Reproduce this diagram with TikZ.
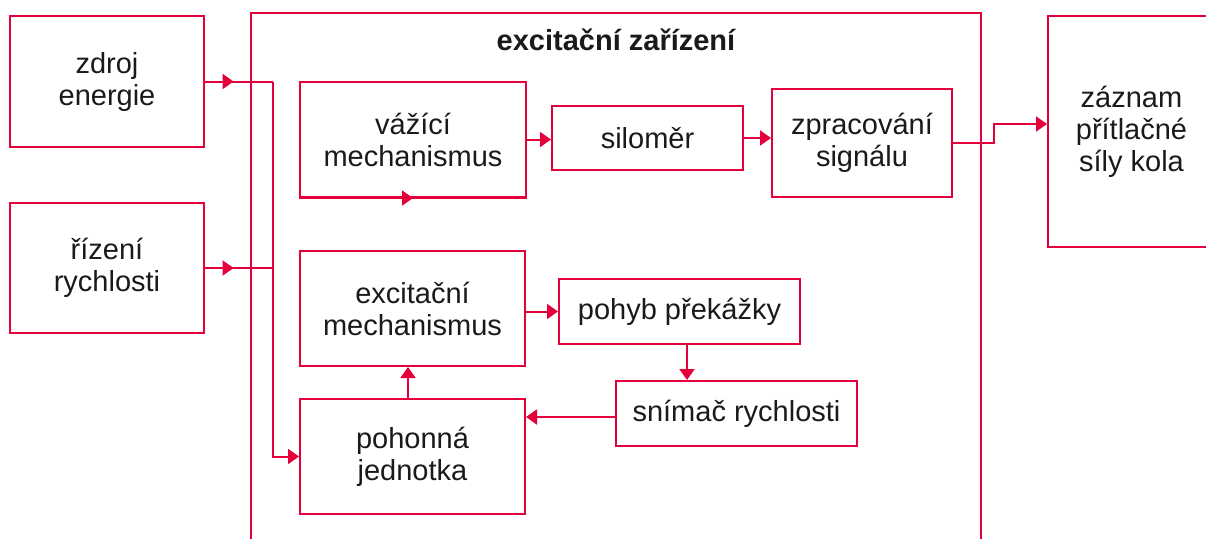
\documentclass[tikz,border=0pt]{standalone}
\usepackage{fontspec}
\setmainfont{Liberation Sans}
\usetikzlibrary{arrows.meta,calc,decorations.markings}
\definecolor{cred}{RGB}{228,0,58}
\definecolor{ctext}{RGB}{26,26,26}
\newcommand\mybx[6]{\node[box, minimum width={(#4-#2)*0.5pt}, minimum height={(#5-#3)*0.5pt}] (#1) at ({(#2+#4)/2},{(#3+#5)/2}) {#6};}
\begin{document}
\begin{tikzpicture}[x=0.5pt,y=-0.5pt,
  box/.style={draw=cred, line width=1pt, inner sep=0pt, align=center, text=ctext,
    font=\fontsize{14.5}{16}\selectfont},
  conn/.style={color=cred, line width=1pt},
  arr/.style={conn, -{Triangle[length=5.5pt,width=7.5pt]}},
  midarr/.style={conn, postaction={decorate}, decoration={markings,
    mark=at position #1 with {\arrow{Triangle[length=5.5pt,width=7.5pt]}}}},
  title/.style={text=ctext, font=\fontsize{14.5}{16}\selectfont\bfseries}
]
\useasboundingbox (0,0) rectangle (1206,538);
% container
\mybx{exz}{251}{13}{981}{570}{}
\node[title] (tit) at (616,40) {excitační zařízení};
% boxes
\mybx{zdroj}{10}{16}{204}{147}{zdroj\\energie}
\mybx{rizeni}{10}{203}{204}{333}{řízení\\rychlosti}
\mybx{vaz}{300}{82}{526}{197}{vážící\\mechanismus}
\mybx{sil}{552}{106}{743}{170}{siloměr}
\mybx{zpr}{772}{89}{952}{197}{zpracování\\signálu}
\mybx{zaz}{1048}{16}{1215}{247}{záznam\\přítlačné\\síly kola}
\mybx{exc}{300}{251}{525}{366}{excitační\\mechanismus}
\mybx{poh}{559}{279}{800}{344}{pohyb překážky}
\mybx{snim}{616}{381}{857}{446}{snímač rychlosti}
\mybx{pohon}{300}{399}{525}{514}{pohonná\\jednotka}
% junctions
\coordinate (j1) at (273,82);
\coordinate (j2) at (273,266);
% connectors
\draw[midarr=0.42] (zdroj.east) -- (zdroj.east -| j1);
\draw[midarr=0.42] (rizeni.east) -- (rizeni.east -| j2);
\draw[conn] (zdroj.east -| j1) -- (j2);
\draw[arr] (j2) |- (pohon.west);
\draw[midarr=0.5] (vaz.south west) -- (vaz.south east);
\draw[arr] (vaz.east) -- (vaz.east -| sil.west);
\draw[arr] (sil.east) -- (sil.east -| zpr.west);
\draw[arr] (zpr.east) -- ++(41,0) |- ($(zaz.west)+(0,-7.5)$);
\draw[arr] (poh.west -| exc.east) -- (poh.west);
\draw[arr] ($(poh.south)+(7.5,0)$) coordinate (pa) -- (pa |- snim.north);
\draw[arr] ($(snim.west)+(0,3.5)$) coordinate (sa) -- (sa -| pohon.east);
\draw[arr] ($(pohon.north)+(-4.5,0)$) coordinate (pb) -- (pb |- exc.south);
\end{tikzpicture}
\end{document}
